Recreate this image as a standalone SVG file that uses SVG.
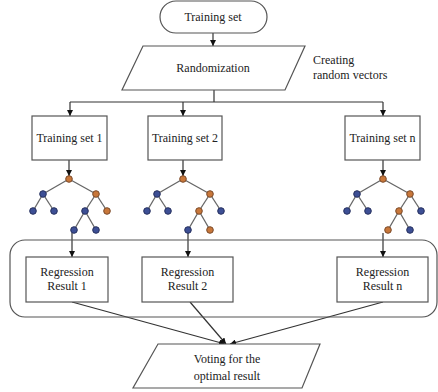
<svg xmlns="http://www.w3.org/2000/svg" width="438" height="392" viewBox="0 0 438 392">
<style>
.box{fill:#fff;stroke:#555;stroke-width:1.2}
.ln{fill:none;stroke:#333;stroke-width:1.2}
.ed{stroke:#666;stroke-width:1.3}
text{font-family:"Liberation Serif","Times New Roman","DejaVu Serif",serif;font-size:12px;fill:#222}
.t{text-anchor:middle}
.o{fill:#c8773a;stroke:#7a4a2a;stroke-width:1}
.b{fill:#3d4f95;stroke:#26305e;stroke-width:1}
</style>
<defs>
<marker id="ah" viewBox="0 0 10 10" refX="10" refY="5" markerWidth="6" markerHeight="6" markerUnits="userSpaceOnUse" orient="auto">
<path d="M0,0L10,5L0,10z" fill="#111"/>
</marker>
<g id="tree">
<line class="ed" x1="0" y1="0" x2="-26" y2="15"/>
<line class="ed" x1="0" y1="0" x2="27" y2="15"/>
<line class="ed" x1="-26" y1="15" x2="-36" y2="32"/>
<line class="ed" x1="-26" y1="15" x2="-15" y2="32"/>
<line class="ed" x1="27" y1="15" x2="16" y2="32"/>
<line class="ed" x1="27" y1="15" x2="38" y2="32"/>
<line class="ed" x1="16" y1="32" x2="5" y2="51"/>
<line class="ed" x1="16" y1="32" x2="27" y2="51"/>
</g>
</defs>
<rect width="438" height="392" fill="#fff"/>
<g id="connectors">
<line class="ln" x1="213" y1="33" x2="213" y2="46" marker-end="url(#ah)"/>
<line class="ln" x1="214" y1="90" x2="214" y2="102"/>
<line class="ln" x1="70" y1="102" x2="383" y2="102"/>
<line class="ln" x1="70" y1="102" x2="70" y2="116" marker-end="url(#ah)"/>
<line class="ln" x1="183" y1="102" x2="183" y2="116" marker-end="url(#ah)"/>
<line class="ln" x1="383" y1="102" x2="383" y2="116" marker-end="url(#ah)"/>
<line class="ln" x1="69" y1="160" x2="69" y2="176" marker-end="url(#ah)"/>
<line class="ln" x1="183" y1="160" x2="183" y2="176" marker-end="url(#ah)"/>
<line class="ln" x1="383" y1="160" x2="383" y2="176" marker-end="url(#ah)"/>
<line class="ln" x1="72" y1="233" x2="72" y2="257" marker-end="url(#ah)"/>
<line class="ln" x1="188" y1="233" x2="188" y2="257" marker-end="url(#ah)"/>
<line class="ln" x1="383" y1="233" x2="383" y2="257" marker-end="url(#ah)"/>
<line class="ln" x1="72" y1="302" x2="225" y2="344" marker-end="url(#ah)"/>
<line class="ln" x1="190" y1="302" x2="226" y2="344" marker-end="url(#ah)"/>
<line class="ln" x1="383" y1="302" x2="230" y2="344" marker-end="url(#ah)"/>
</g>
<g id="group-box"><rect x="10" y="240" width="427" height="77" rx="15" fill="none" stroke="#555" stroke-width="1.2"/></g>
<g id="training-set"><rect class="box" x="160" y="1" width="107" height="32" rx="16"/><text class="t" x="213" y="21">Training set</text></g>
<g id="randomization"><polygon class="box" points="143,46 305,46 285,90 122,90"/><text class="t" x="213" y="72">Randomization</text></g>
<g id="creating-label"><text x="313" y="64">Creating</text><text x="313" y="79">random vectors</text></g>
<g id="ts1"><rect class="box" x="32" y="116" width="75" height="44"/><text class="t" x="69.5" y="142">Training set 1</text></g>
<g id="ts2"><rect class="box" x="148" y="116" width="74" height="44"/><text class="t" x="185" y="142">Training set 2</text></g>
<g id="tsn"><rect class="box" x="345" y="116" width="75" height="44"/><text class="t" x="382.5" y="142">Training set n</text></g>
<g id="tree1">
<use href="#tree" x="69" y="179"/>
<circle class="o" cx="69" cy="179" r="3.3"/>
<circle class="b" cx="43" cy="194" r="3.3"/><circle class="o" cx="96" cy="194" r="3.3"/>
<circle class="b" cx="33" cy="211" r="3.3"/><circle class="b" cx="54" cy="211" r="3.3"/><circle class="b" cx="85" cy="211" r="3.3"/><circle class="o" cx="107" cy="211" r="3.3"/>
<circle class="b" cx="74" cy="230" r="3.3"/><circle class="b" cx="96" cy="230" r="3.3"/>
</g>
<g id="tree2">
<use href="#tree" x="183" y="179"/>
<circle class="o" cx="183" cy="179" r="3.3"/>
<circle class="b" cx="157" cy="194" r="3.3"/><circle class="o" cx="210" cy="194" r="3.3"/>
<circle class="b" cx="147" cy="211" r="3.3"/><circle class="b" cx="168" cy="211" r="3.3"/><circle class="o" cx="199" cy="211" r="3.3"/><circle class="b" cx="221" cy="211" r="3.3"/>
<circle class="b" cx="188" cy="230" r="3.3"/><circle class="o" cx="210" cy="230" r="3.3"/>
</g>
<g id="treen">
<use href="#tree" x="383" y="179"/>
<circle class="o" cx="383" cy="179" r="3.3"/>
<circle class="b" cx="357" cy="194" r="3.3"/><circle class="o" cx="410" cy="194" r="3.3"/>
<circle class="b" cx="347" cy="211" r="3.3"/><circle class="b" cx="368" cy="211" r="3.3"/><circle class="o" cx="399" cy="211" r="3.3"/><circle class="b" cx="421" cy="211" r="3.3"/>
<circle class="o" cx="388" cy="230" r="3.3"/><circle class="b" cx="410" cy="230" r="3.3"/>
</g>
<g id="rr1"><rect class="box" x="26" y="257" width="82" height="45"/><text class="t" x="67" y="276">Regression</text><text class="t" x="67" y="290">Result 1</text></g>
<g id="rr2"><rect class="box" x="142" y="257" width="91" height="45"/><text class="t" x="187.5" y="276">Regression</text><text class="t" x="187.5" y="290">Result 2</text></g>
<g id="rrn"><rect class="box" x="337" y="257" width="91" height="45"/><text class="t" x="382.5" y="276">Regression</text><text class="t" x="382.5" y="290">Result n</text></g>
<g id="voting"><polygon class="box" points="158,344 320,344 302,388 133,388"/><text class="t" x="227" y="363">Voting for the</text><text class="t" x="227" y="380">optimal result</text></g>
</svg>
